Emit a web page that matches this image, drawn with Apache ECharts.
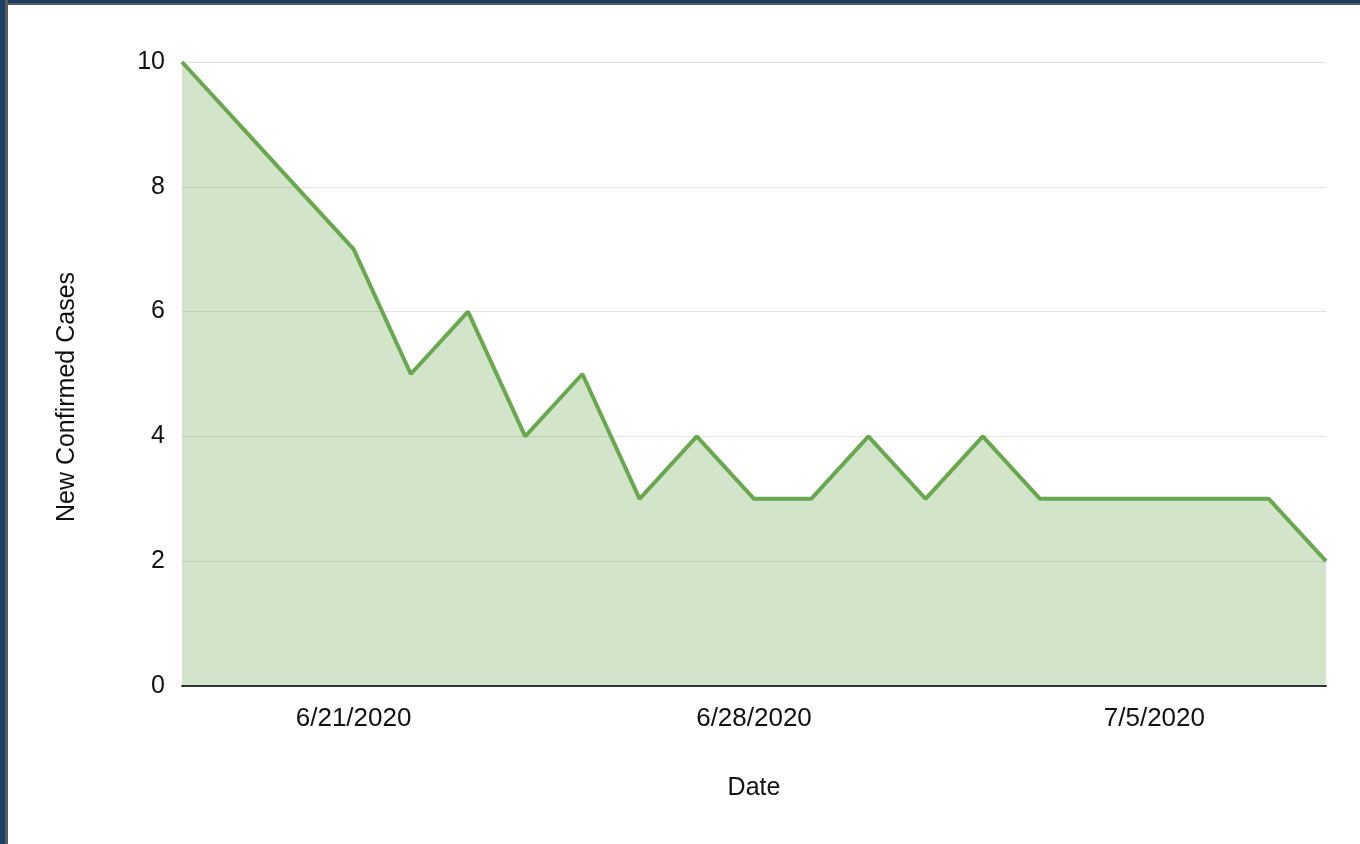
<!DOCTYPE html>
<html>
<head>
<meta charset="utf-8">
<script src="https://cdn.jsdelivr.net/npm/echarts@6/dist/echarts.min.js"></script>
<style>
html,body{margin:0;padding:0;background:#fff;width:1360px;height:844px;overflow:hidden;}
#chart{position:absolute;left:0;top:0;width:1360px;height:844px;}
.bl{position:absolute;left:0;top:0;width:5px;height:844px;background:#1d3f66;}
.bl2{position:absolute;left:5px;top:0;width:3px;height:844px;background:#5a5a5a;}
.bt{position:absolute;left:0;top:0;width:1360px;height:3px;background:#1d3f66;}
.bt2{position:absolute;left:5px;top:3px;width:1355px;height:2px;background:#5a5a5a;}
</style>
</head>
<body>
<div id="chart"></div>
<div class="bt"></div><div class="bt2"></div>
<div class="bl"></div><div class="bl2"></div>
<script>
const dates = ['6/18/2020','6/19/2020','6/20/2020','6/21/2020','6/22/2020','6/23/2020','6/24/2020','6/25/2020','6/26/2020','6/27/2020','6/28/2020','6/29/2020','6/30/2020','7/1/2020','7/2/2020','7/3/2020','7/4/2020','7/5/2020','7/6/2020','7/7/2020','7/8/2020'];
const newCases = [10, 9, 8, 7, 5, 6, 4, 5, 3, 4, 3, 3, 4, 3, 4, 3, 3, 3, 3, 3, 2];
const shownDates = ['6/21/2020','6/28/2020','7/5/2020'];
const yTicks = [0, 2, 4, 6, 8, 10];
const yTitle = 'New Confirmed Cases';
const xTitle = 'Date';

const chart = echarts.init(document.getElementById('chart'));
const font = 'Liberation Sans, Arial, sans-serif';
chart.setOption({
  animation: false,
  grid: {left: 182, right: 34, top: 62, bottom: 158},
  graphic: [{
    type: 'text',
    x: 67, y: 397,
    rotation: Math.PI / 2,
    style: {text: yTitle, font: '25px ' + font, fill: '#111', align: 'center', verticalAlign: 'middle'}
  }],
  xAxis: {
    type: 'category',
    data: dates,
    boundaryGap: false,
    z: 5,
    name: xTitle,
    nameLocation: 'middle',
    nameGap: 90,
    nameTextStyle: {fontFamily: font, fontSize: 25, color: '#111'},
    axisLine: {lineStyle: {color: '#333', width: 2}},
    axisTick: {show: false},
    axisLabel: {
      fontFamily: font, fontSize: 26, color: '#111', margin: 20,
      interval: (i, v) => shownDates.includes(v)
    },
    splitLine: {show: false}
  },
  yAxis: {
    type: 'value',
    min: yTicks[0], max: yTicks[yTicks.length-1], interval: 2,
    axisLine: {show: false},
    axisTick: {show: false},
    axisLabel: {fontFamily: font, fontSize: 25, color: '#111', margin: 17},
    splitLine: {lineStyle: {color: '#e3e3e3', width: 1}}
  },
  series: [{
    type: 'line',
    data: newCases,
    symbol: 'none',
    lineStyle: {color: '#6aa84f', width: 4},
    areaStyle: {color: '#6aa84f', opacity: 0.3, origin: 'start'},
    z: 2
  }]
});
</script>
</body>
</html>
